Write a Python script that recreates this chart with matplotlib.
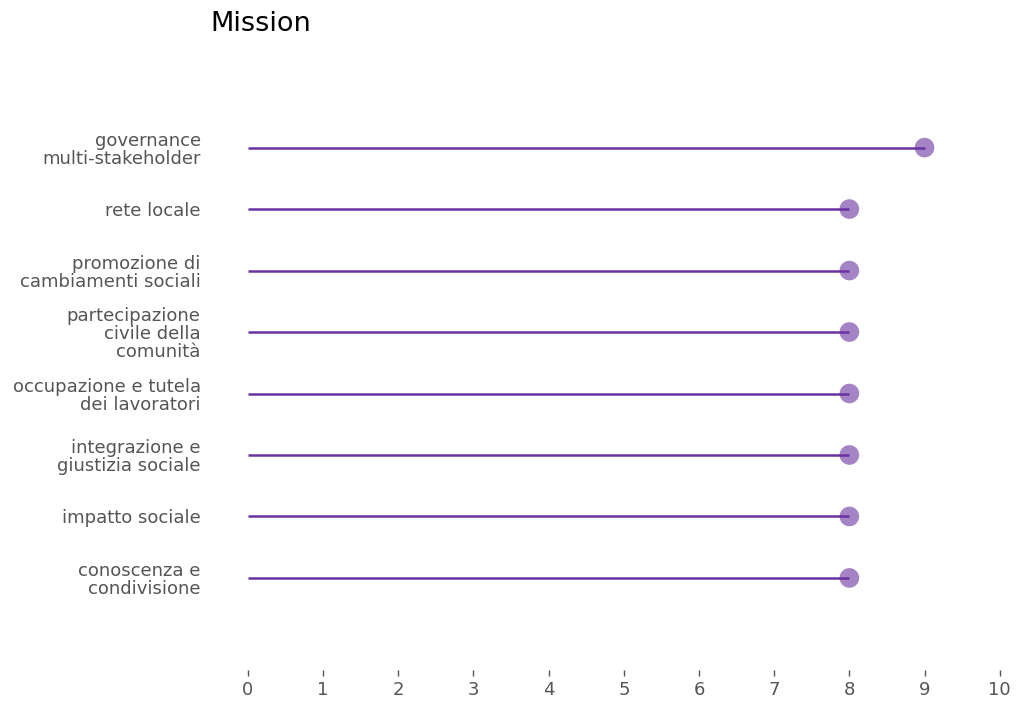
import matplotlib.pyplot as plt
import numpy as np

categories = [
    "conoscenza e\ncondivisione",
    "impatto sociale",
    "integrazione e\ngiustizia sociale",
    "occupazione e tutela\ndei lavoratori",
    "partecipazione\ncivile della\ncomunità",
    "promozione di\ncambiamenti sociali",
    "rete locale",
    "governance\nmulti-stakeholder",
]
values = [8, 8, 8, 8, 8, 8, 8, 9]

purple = "#6a32a0"
grey = "#555555"

fig = plt.figure(figsize=(10.16, 7.01), dpi=100)
ax = fig.add_axes([0.244, 0.044, 0.740, 0.877])

y = np.arange(len(categories))
ax.hlines(y, 0, values, color=purple, linewidth=1.8, zorder=3)
ax.scatter(values, y, s=200, color=purple, alpha=0.6, zorder=2, edgecolors="none")

ax.set_xlim(0, 10)
ax.set_ylim(-1.5, 8.5)
ax.set_xticks(range(0, 11))
ax.set_yticks(y)
ax.set_yticklabels(categories, fontsize=13, color=grey, linespacing=1.0)
ax.tick_params(axis="y", length=0, pad=34)
ax.tick_params(axis="x", length=4, width=1, colors=grey, labelsize=13, pad=4)
for s in ax.spines.values():
    s.set_visible(False)

fig.text(210 / 1016, 1 - 24 / 701, "Mission", fontsize=19.5, va="center", ha="left")

fig.savefig("out.png", dpi=100)
